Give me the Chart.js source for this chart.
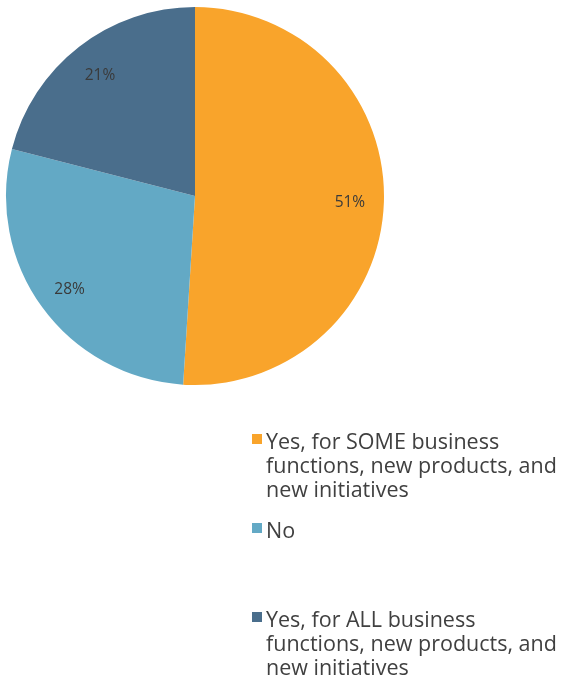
<!DOCTYPE html>
<html>
<head>
<meta charset="utf-8">
<script src="https://cdn.jsdelivr.net/npm/chart.js@4.4.1/dist/chart.umd.min.js"></script>
<style>
  html, body { margin: 0; padding: 0; background: #fff; }
  #wrap { width: 571px; height: 681px; position: relative; }
</style>
</head>
<body>
<div id="wrap"><canvas id="pie"></canvas></div>
<script>
// survey answers, clockwise from 12 o'clock
var labels = [
  ["Yes, for SOME business", "functions, new products, and", "new initiatives"],
  ["No"],
  ["Yes, for ALL business", "functions, new products, and", "new initiatives"]
];
var values = [51, 28, 21];
var colors = ["#F9A42B", "#63A9C5", "#4A6E8C"];

var FONT = "'Open Sans', sans-serif";

// percent labels inside each slice
var sliceLabels = {
  id: 'sliceLabels',
  afterDatasetsDraw: function(chart) {
    var ctx = chart.ctx;
    var meta = chart.getDatasetMeta(0);
    ctx.save();
    ctx.font = "15.5px " + FONT;
    ctx.fillStyle = "#3a3a3a";
    ctx.textAlign = "center";
    ctx.textBaseline = "middle";
    meta.data.forEach(function(arc, i) {
      var mid = (arc.startAngle + arc.endAngle) / 2;
      var r = arc.outerRadius * 0.82;
      ctx.fillText(values[i] + "%", arc.x + Math.cos(mid) * r, arc.y + Math.sin(mid) * r + 2);
    });
    ctx.restore();
  }
};

// legend stacked in the lower right corner
var sideLegend = {
  id: 'sideLegend',
  afterDraw: function(chart) {
    var ctx = chart.ctx;
    var x = 252, top = 443, pitch = 89, lineH = 24;
    ctx.save();
    ctx.font = "21.5px " + FONT;
    ctx.textBaseline = "middle";
    labels.forEach(function(lines, i) {
      var y = top + i * pitch;
      ctx.fillStyle = colors[i];
      ctx.fillRect(x, y - 9, 10, 10);
      ctx.fillStyle = "#404040";
      lines.forEach(function(t, j) {
        ctx.fillText(t, x + 14, y + j * lineH);
      });
    });
    ctx.restore();
  }
};

new Chart(document.getElementById('pie'), {
  type: 'pie',
  data: {
    labels: labels,
    datasets: [{
      data: values,
      backgroundColor: colors,
      borderWidth: 0
    }]
  },
  options: {
    responsive: true,
    maintainAspectRatio: false,
    animation: false,
    layout: { padding: { left: 6, top: 7, right: 187, bottom: 296 } },
    plugins: {
      legend: { display: false },
      tooltip: { enabled: false }
    }
  },
  plugins: [sliceLabels, sideLegend]
});
</script>
</body>
</html>
